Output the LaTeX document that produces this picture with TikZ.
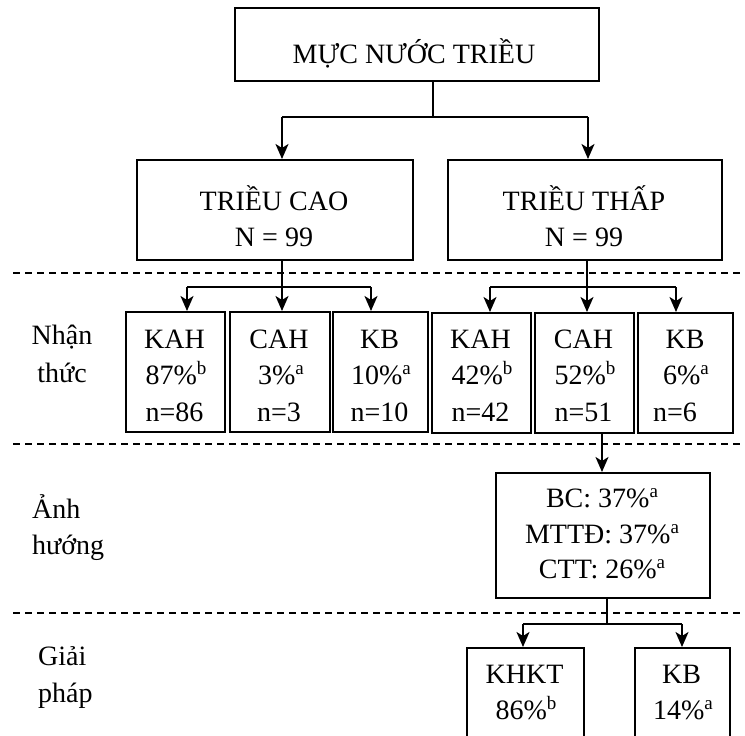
\documentclass[tikz,border=0pt]{standalone}
\usepackage{fontspec}
\setmainfont{Liberation Serif}
\usetikzlibrary{arrows.meta}
\newcommand{\sa}{\raisebox{10pt}{\fontsize{19}{19}\selectfont a}}
\newcommand{\sbb}{\raisebox{10pt}{\fontsize{19}{19}\selectfont b}}
\begin{document}
\begin{tikzpicture}[x=1pt,y=-1pt,
  every node/.style={font=\fontsize{28}{32}\selectfont},
  box/.style={draw, line width=1.8pt, inner sep=0pt, anchor=north west},
  txt/.style={anchor=base, inner sep=0pt},
  lbl/.style={anchor=base west, inner sep=0pt},
  conn/.style={line width=1.8pt},
  arr/.style={line width=1.8pt, -{Stealth[length=15pt,width=13pt,inset=4pt]}},
  sep/.style={line width=1.3pt, dash pattern=on 7pt off 5pt}
]
\useasboundingbox (0,0) rectangle (745,736);
\clip (0,0) rectangle (745,736);

% separators
\draw[sep] (13,273) -- (745,273);
\draw[sep] (13,444) -- (745,444);
\draw[sep] (13,613) -- (745,613);

% boxes
\node[box, minimum width=364pt, minimum height=73pt] (top) at (234,7) {};
\node[box, minimum width=276pt, minimum height=100pt] (cao) at (136,159) {};
\node[box, minimum width=274pt, minimum height=100pt] (thap) at (447,159) {};
\node[box, minimum width=99pt, minimum height=120pt] (kah1) at (125,311) {};
\node[box, minimum width=100pt, minimum height=120pt] (cah1) at (229,311) {};
\node[box, minimum width=95pt, minimum height=120pt] (kb1) at (332,311) {};
\node[box, minimum width=99pt, minimum height=120pt] (kah2) at (431,312) {};
\node[box, minimum width=99pt, minimum height=120pt] (cah2) at (534,312) {};
\node[box, minimum width=95pt, minimum height=120pt] (kb2) at (637,312) {};
\node[box, minimum width=214pt, minimum height=125pt] (bc) at (495,472) {};
\node[box, minimum width=117pt, minimum height=120pt] (khkt) at (466,647) {};
\node[box, minimum width=95pt, minimum height=120pt] (kb3) at (634,647) {};

% texts
\node[txt] (t0) at (414,63) {MỰC NƯỚC TRIỀU};
\node[txt] (t1) at (274,210) {TRIỀU CAO};
\node[txt] (t2) at (274,246) {N = 99};
\node[txt] (t3) at (584,210) {TRIỀU THẤP};
\node[txt] (t4) at (584,246) {N = 99};

\node[txt] at (174.5,348) {KAH};
\node[txt] at (176,384) {87\%\sbb};
\node[txt] at (174.5,421) {n=86};
\node[txt] at (279,348) {CAH};
\node[txt] at (281,384) {3\%\sa};
\node[txt] at (279,421) {n=3};
\node[txt] at (379.5,348) {KB};
\node[txt] at (381,384) {10\%\sa};
\node[txt] at (379.5,421) {n=10};

\node[txt] at (480.5,348) {KAH};
\node[txt] at (482,384) {42\%\sbb};
\node[txt] at (480.5,421) {n=42};
\node[txt] at (583.5,348) {CAH};
\node[txt] at (585,384) {52\%\sbb};
\node[txt] at (583.5,421) {n=51};
\node[txt] at (685,348) {KB};
\node[txt] at (686,384) {6\%\sa};
\node[txt] at (675,421) {n=6};

\node[txt] at (602,507) {BC: 37\%\sa};
\node[txt] at (602,543) {MTTĐ: 37\%\sa};
\node[txt] at (602,578) {CTT: 26\%\sa};

\node[txt] at (524.5,683) {KHKT};
\node[txt] at (526,719) {86\%\sbb};
\node[txt] at (681.5,683) {KB};
\node[txt] at (683,719) {14\%\sa};

% left labels
\node[txt] at (62,344) {Nhận};
\node[txt] at (62,382) {thức};
\node[lbl] at (32,518) {Ảnh};
\node[lbl] at (32,554) {hướng};
\node[lbl] at (38,665) {Giải};
\node[lbl] at (38,702) {pháp};

% connectors: level 1
\coordinate (j0) at (433,117);
\coordinate (h0l) at (282,117);
\coordinate (h0r) at (588,117);
\draw[conn] (top.south -| j0) -- (j0);
\draw[conn] (h0l) -- (h0r);
\draw[arr] (h0l) -- (cao.north -| h0l);
\draw[arr] (h0r) -- (thap.north -| h0r);

% level 2 left
\coordinate (h1l) at (187,287);
\coordinate (h1m) at (282,287);
\coordinate (h1r) at (371,287);
\draw[conn] (h1l) -- (h1r);
\draw[arr] (cao.south -| h1m) -- (cah1.north -| h1m);
\draw[arr] (h1l) -- (kah1.north -| h1l);
\draw[arr] (h1r) -- (kb1.north -| h1r);

% level 2 right
\coordinate (h2l) at (490,287);
\coordinate (h2m) at (587,287);
\coordinate (h2r) at (676,287);
\draw[conn] (h2l) -- (h2r);
\draw[arr] (thap.south -| h2m) -- (cah2.north -| h2m);
\draw[arr] (h2l) -- (kah2.north -| h2l);
\draw[arr] (h2r) -- (kb2.north -| h2r);

% level 3
\coordinate (v3) at (602,440);
\draw[arr] (cah2.south -| v3) -- (bc.north -| v3);

% level 4
\coordinate (j4) at (607,624);
\coordinate (h4l) at (523,624);
\coordinate (h4r) at (682,624);
\draw[conn] (bc.south -| j4) -- (j4);
\draw[conn] (h4l) -- (h4r);
\draw[arr] (h4l) -- (khkt.north -| h4l);
\draw[arr] (h4r) -- (kb3.north -| h4r);
\end{tikzpicture}
\end{document}
